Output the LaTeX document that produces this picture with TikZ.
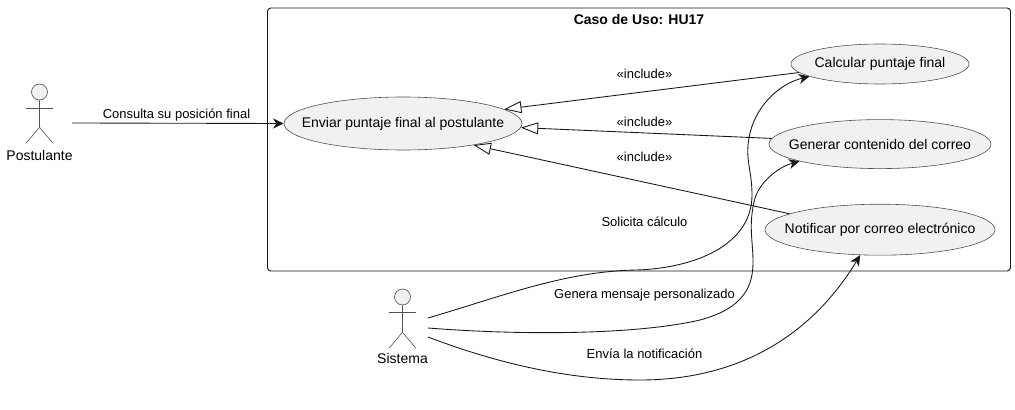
\documentclass[tikz,border=0pt]{standalone}
\usepackage{fontspec}
\setmainfont{Liberation Sans}
\usepackage{xcolor}
\usepackage{tikz}
\usetikzlibrary{arrows.meta,positioning,shapes.geometric}
\definecolor{usefill}{HTML}{F1F1F1}
\definecolor{useline}{HTML}{181818}
\newcommand{\casetext}[1]{\makebox[0pt]{#1}}

\begin{document}
\begin{tikzpicture}[
    x=0.75pt, y=-0.75pt,
    node distance=26.25pt,
    usecase/.style={
      ellipse, draw=useline!75, fill=usefill, line width=0.45pt,
      inner sep=0pt, align=center, font=\fontsize{10.5}{12}\selectfont
    },
    system/.style={
      rectangle, rounded corners=2.5pt,
      draw=useline, fill=white, line width=0.7pt,
      minimum width=557.25pt, minimum height=197.25pt, inner sep=0pt
    },
    head/.style={
      circle, draw=useline!75, fill=usefill, line width=0.45pt,
      minimum size=12pt, inner sep=0pt
    },
    limb/.style={draw=useline!75, line width=0.45pt},
    actorname/.style={font=\fontsize{10.5}{12}\selectfont, inner sep=0pt},
    lbl/.style={font=\fontsize{9.75}{11}\selectfont, inner sep=0pt},
    arr/.style={-{Stealth[length=8pt, width=7.5pt, inset=2.5pt]}, useline, line width=0.65pt},
    incl/.style={-{Triangle[open, length=13pt, width=9pt]}, useline, line width=0.65pt},
  ]
  \useasboundingbox (0,0) rectangle (1015,410);

  % System boundary
  \node[system] (hu) at (639,139.5) {};
  \node[font=\fontsize{10.5}{12}\selectfont\bfseries, inner sep=0pt] (title) at (639,19) {Caso de Uso: HU17};

  % Use cases
  \node[usecase, minimum width=178.5pt, minimum height=39.75pt] (enviar) at (403,123.5) {\casetext{Enviar puntaje final al postulante}};
  \node[usecase, minimum width=133.5pt, minimum height=30pt] (calcular) at (880,64) {\casetext{Calcular puntaje final}};
  \node[usecase, minimum width=166.5pt, minimum height=36.75pt, below=of calcular] (generar) {\casetext{Generar contenido del correo}};
  \node[usecase, minimum width=172.5pt, minimum height=38.25pt, below=of generar] (notificar) {\casetext{Notificar por correo electrónico}};

  % Postulante
  \node[head] (posthead) at (39.5,92) {};
  \draw[limb] (posthead.south) -- ++(0,27) coordinate (posthip) -- ++(-13.5,16);
  \draw[limb] (posthip) -- ++(13.5,16);
  \draw[limb] (26,108) -- (53,108);
  \node[actorname] (postulante) at (39.5,155) {Postulante};
  \coordinate (postout) at (72,123);

  % Sistema
  \node[head] (sishead) at (402.5,297) {};
  \draw[limb] (sishead.south) -- ++(0,27) coordinate (siship) -- ++(-13.5,16);
  \draw[limb] (siship) -- ++(13.5,16);
  \draw[limb] (389,312) -- (416,312);
  \node[actorname] (sistema) at (402.5,358.5) {Sistema};
  \coordinate (sisouta) at (428,318);
  \coordinate (sisoutb) at (428,328);
  \coordinate (sisoutc) at (428,337);

  % Edges
  \draw[arr] (postout) -- (enviar.west);
  \node[lbl] (consulta) at (176.5,115.5) {Consulta su posición final};

  % Includes
  \draw[incl] (calcular.186.4) -- (enviar.8);
  \draw[incl] (generar.177.4) -- (enviar.-2);
  \draw[incl] (notificar.170.4) -- (enviar.-17);
  \node[lbl] (inca) at (644.5,74) {«include»};
  \node[lbl] (incb) at (644.5,122) {«include»};
  \node[lbl] (incc) at (644.5,157) {«include»};

  % Sistema edges
  \draw[arr] (sisouta) .. controls (500,297) and (565,271) .. (637,270)
    .. controls (695,268) and (752,245) .. (752,195)
    .. controls (752,170) and (745,160) .. (749,138)
    .. controls (754,108) and (778,84) .. (calcular.190);
  \draw[arr] (sisoutb) .. controls (530,336) and (640,334) .. (700,320)
    .. controls (745,308) and (753,285) .. (753,262)
    .. controls (753,240) and (748,225) .. (755,198)
    .. controls (762,178) and (782,166) .. (generar.192.6);
  \draw[arr] (sisoutc) .. controls (520,372) and (590,380) .. (640,380)
    .. controls (745,380) and (815,330) .. (notificar.232);
  \node[lbl] (solicita) at (644.5,222) {Solicita cálculo};
  \node[lbl] (genera) at (644.5,295.5) {Genera mensaje personalizado};
  \node[lbl] (envia) at (644.5,354) {Envía la notificación};

\end{tikzpicture}
\end{document}
